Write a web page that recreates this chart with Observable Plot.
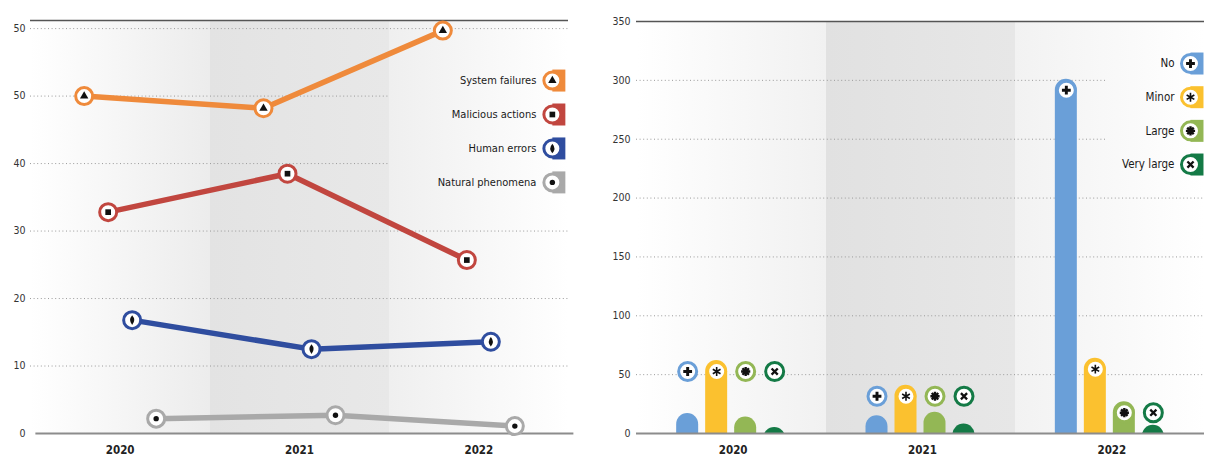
<!DOCTYPE html>
<html><head><meta charset="utf-8">
<script src="https://cdn.jsdelivr.net/npm/d3@7"></script>
<script src="https://cdn.jsdelivr.net/npm/@observablehq/plot@0.6"></script>
<style>
body{margin:0;background:#fff;}
#wrap{display:flex;width:1213px;height:459px;overflow:hidden;}
#wrap svg{font-family:"Liberation Sans Narrow","DejaVu Sans Condensed","Roboto Condensed",sans-serif;display:block;}
</style></head><body><div id="wrap"></div>
<script>
// ---------- data ----------
const years = ["2020", "2021", "2022"];

const causeNames = ["System failures", "Malicious actions", "Human errors", "Natural phenomena"];
const causeColors = ["#ef8a3b", "#c1463f", "#2f4d9f", "#a9a9a9"];
const systemFailures = [50, 48.2, 59.7];
const maliciousActions = [32.8, 38.5, 25.7];
const humanErrors = [16.8, 12.5, 13.6];
const naturalPhenomena = [2.2, 2.7, 1.1];
const leftTicks = [0, 10, 20, 30, 40, 50, 60];
const leftTickLabels = ["0", "10", "20", "30", "40", "50", "50"];

const impactNames = ["No", "Minor", "Large", "Very large"];
const impactColors = ["#6a9fd8", "#fbc12f", "#93b755", "#147a46"];
const impactNo = [17, 15, 301];
const impactMinor = [62, 41, 64];
const impactLarge = [14, 18, 27];
const impactVeryLarge = [5, 8, 7];
const rightTicks = [0, 50, 100, 150, 200, 250, 300, 350];
const rightTickLabels = ["0", "50", "100", "150", "200", "250", "300", "350"];

// ---------- symbols ----------
const lens = {draw(c) { c.moveTo(0, -4.8); c.quadraticCurveTo(4.2, 0, 0, 4.8); c.quadraticCurveTo(-4.2, 0, 0, -4.8); c.closePath(); }};
const tab = {draw(c) { c.rect(0, -11, 13, 22); }};
const star8 = {draw(c) { const r = 4.6; for (let k = 0; k < 4; k++) { const a = k * Math.PI / 4; c.moveTo(-r * Math.cos(a), -r * Math.sin(a)); c.lineTo(r * Math.cos(a), r * Math.sin(a)); } }};

const causeSeries = [systemFailures, maliciousActions, humanErrors, naturalPhenomena];
const causeGlyphs = [
  {symbol: "triangle", r: 3.1, fill: "#111", stroke: "none"},
  {symbol: "square", r: 3.2, fill: "#111", stroke: "none"},
  {symbol: lens, r: 3, fill: "#111", stroke: "none"},
  {symbol: "circle", r: 2.7, fill: "#111", stroke: "none"}
];
const impactSeries = [impactNo, impactMinor, impactLarge, impactVeryLarge];
const impactGlyphs = [
  {symbol: "cross", r: 3.7, fill: "#111", stroke: "none"},
  {symbol: "asterisk", r: 4.2, fill: "none", stroke: "#111", strokeWidth: 1.6},
  {symbol: star8, r: 4, fill: "#111", stroke: "#111", strokeWidth: 2.4},
  {symbol: "times", r: 2.9, fill: "none", stroke: "#111", strokeWidth: 2.3}
];

const wrap = document.getElementById("wrap");

function addGradient(svg, id, stops) {
  const defs = d3.select(svg).insert("defs", ":first-child");
  const g = defs.append("linearGradient").attr("id", id).attr("x1", 0).attr("x2", 1).attr("y1", 0).attr("y2", 0);
  stops.forEach(([o, c]) => g.append("stop").attr("offset", o).attr("stop-color", c));
}

// ---------- left chart ----------
{
  const W = 600, H = 459, mL = 30, mR = 32, mT = 20, mB = 26;
  const pxPerYear = (W - mL - mR) / 3;
  const spread = 24 / pxPerYear;
  const yTop = 61.2;
  const rows = causeSeries.flatMap((vals, j) => vals.map((v, i) => ({j, i, cause: causeNames[j], value: v, x: i + (j - 1.5) * spread})));
  const legendX = 2.41, legendTop = 52.3, legendStep = 5.03, legendBoxLeft = 1.5;
  const legendRows = causeNames.map((n, j) => ({j, n, x: legendX, y: legendTop - j * legendStep}));
  const legendLo = legendTop - (causeNames.length - 1) * legendStep - 2, legendHi = legendTop + 2;
  const marks = [
    Plot.frame({fill: "url(#bgL)", stroke: "none"}),
    Plot.ruleY(leftTicks.filter(t => t > 0), {y: d => d, x1: -0.5, x2: d => (d > legendLo && d < legendHi) ? legendBoxLeft : 2.5, stroke: "#9a9a9a", strokeWidth: 1, strokeDasharray: "1,2.6"}),
    Plot.ruleY([yTop], {stroke: "#555", strokeWidth: 1.5}),
    Plot.ruleY([0], {x1: -0.47, x2: 2.53, stroke: "#8c8c8c", strokeWidth: 2})
  ];
  causeSeries.forEach((vals, j) => {
    const d = rows.filter(r => r.j === j);
    marks.push(Plot.line(d, {x: "x", y: "value", stroke: causeColors[j], strokeWidth: 5.5}));
  });
  causeSeries.forEach((vals, j) => {
    const d = rows.filter(r => r.j === j);
    marks.push(Plot.dot(d, {x: "x", y: "value", r: 8.5, fill: "white", stroke: causeColors[j], strokeWidth: 3}));
    marks.push(Plot.dot(d, {x: "x", y: "value", ...causeGlyphs[j]}));
  });
  legendRows.forEach(L => {
    marks.push(Plot.dot([L], {x: "x", y: "y", symbol: tab, r: 5, fill: causeColors[L.j], stroke: "none"}));
    marks.push(Plot.dot([L], {x: "x", y: "y", r: 8.5, fill: "white", stroke: causeColors[L.j], strokeWidth: 3}));
    marks.push(Plot.dot([L], {x: "x", y: "y", ...causeGlyphs[L.j]}));
  });
  marks.push(Plot.text(legendRows, {x: "x", y: "y", text: "n", textAnchor: "end", dx: -16, fontSize: 11, fill: "#1a1a1a"}));
  marks.push(Plot.axisY({ticks: leftTicks, tickFormat: (t) => leftTickLabels[leftTicks.indexOf(t)], tickSize: 0, tickPadding: 5, fontSize: 10.5, fill: "#333", label: null}));
  marks.push(Plot.axisX({ticks: [0, 1, 2], tickFormat: i => years[i], tickSize: 0, tickPadding: 12, fontSize: 11.5, fontWeight: 600, fill: "#222", label: null}));
  const svg = Plot.plot({
    width: W, height: H, marginLeft: mL, marginRight: mR, marginTop: mT, marginBottom: mB,
    x: {domain: [-0.5, 2.5]},
    y: {domain: [0, yTop]},
    style: {background: "transparent", overflow: "visible"},
    marks
  });
  addGradient(svg, "bgL", [[0, "#ffffff"], [0.3333, "#ececec"], [0.3333, "#e3e3e3"], [0.6667, "#e8e8e8"], [0.6667, "#efefef"], [1, "#ffffff"]]);
  wrap.appendChild(svg);
}

// ---------- right chart ----------
{
  const W = 613, H = 459, mL = 36, mR = 9, mT = 21, mB = 26;
  const pxPerYear = (W - mL - mR) / 3;
  const step = 29 / pxPerYear, halfW = 11 / pxPerYear;
  const capPx = 11;
  const tallMin = 20;
  const levels = years.map((y, i) => d3.min(impactSeries.map(s => s[i]).filter(v => v >= tallMin)));
  const rows = impactSeries.flatMap((vals, j) => vals.map((v, i) => ({j, i, cat: impactNames[j], value: v, x: i + (j - 1.5) * step, mark: Math.max(v, levels[i])})));
  const legendX = 2.426, legendTop = 314.3, legendStep = 28.6, legendBoxLeft = 1.99;
  const legendRows = impactNames.map((n, j) => ({j, n, x: legendX, y: legendTop - j * legendStep}));
  const legendLo = legendTop - (impactNames.length - 1) * legendStep - 12, legendHi = legendTop + 12;
  const marks = [
    Plot.frame({fill: "url(#bgR)", stroke: "none"}),
    Plot.ruleY(rightTicks.filter(t => t > 0 && t < 350), {y: d => d, x1: -0.5, x2: d => (d > legendLo && d < legendHi) ? legendBoxLeft : 2.5, stroke: "#9a9a9a", strokeWidth: 1, strokeDasharray: "1,2.6"}),
    Plot.ruleY([350], {stroke: "#555", strokeWidth: 1.5})
  ];
  impactSeries.forEach((vals, j) => {
    const d = rows.filter(r => r.j === j);
    marks.push(Plot.rectY(d, {x1: r => r.x - halfW, x2: r => r.x + halfW, y1: -30, y2: "value", rx: capPx, fill: impactColors[j], clip: true}));
  });
  marks.push(Plot.ruleY([0], {stroke: "#8c8c8c", strokeWidth: 2}));
  impactSeries.forEach((vals, j) => {
    const d = rows.filter(r => r.j === j);
    marks.push(Plot.dot(d, {x: "x", y: "mark", dy: capPx, r: 9, fill: "white", stroke: impactColors[j], strokeWidth: 3}));
    marks.push(Plot.dot(d, {x: "x", y: "mark", dy: capPx, ...impactGlyphs[j]}));
  });
  legendRows.forEach(L => {
    marks.push(Plot.dot([L], {x: "x", y: "y", symbol: tab, r: 5, fill: impactColors[L.j], stroke: "none"}));
    marks.push(Plot.dot([L], {x: "x", y: "y", r: 9, fill: "white", stroke: impactColors[L.j], strokeWidth: 3}));
    marks.push(Plot.dot([L], {x: "x", y: "y", ...impactGlyphs[L.j]}));
  });
  marks.push(Plot.text(legendRows, {x: "x", y: "y", text: "n", textAnchor: "end", dx: -16, fontSize: 11.5, fill: "#1a1a1a"}));
  marks.push(Plot.axisY({ticks: rightTicks, tickFormat: (t) => rightTickLabels[rightTicks.indexOf(t)], tickSize: 0, tickPadding: 6, fontSize: 10.5, fill: "#333", label: null}));
  marks.push(Plot.axisX({ticks: [0, 1, 2], tickFormat: i => years[i], tickSize: 0, tickPadding: 12, dx: 2, fontSize: 11.5, fontWeight: 600, fill: "#222", label: null}));
  const svg = Plot.plot({
    width: W, height: H, marginLeft: mL, marginRight: mR, marginTop: mT, marginBottom: mB,
    x: {domain: [-0.5, 2.5]},
    y: {domain: [0, 350]},
    style: {background: "transparent", overflow: "visible"},
    marks
  });
  addGradient(svg, "bgR", [[0, "#ffffff"], [0.3333, "#f1f1f1"], [0.3333, "#e1e1e1"], [0.6667, "#e7e7e7"], [0.6667, "#f2f2f2"], [1, "#ffffff"]]);
  wrap.appendChild(svg);
}
</script></body></html>
